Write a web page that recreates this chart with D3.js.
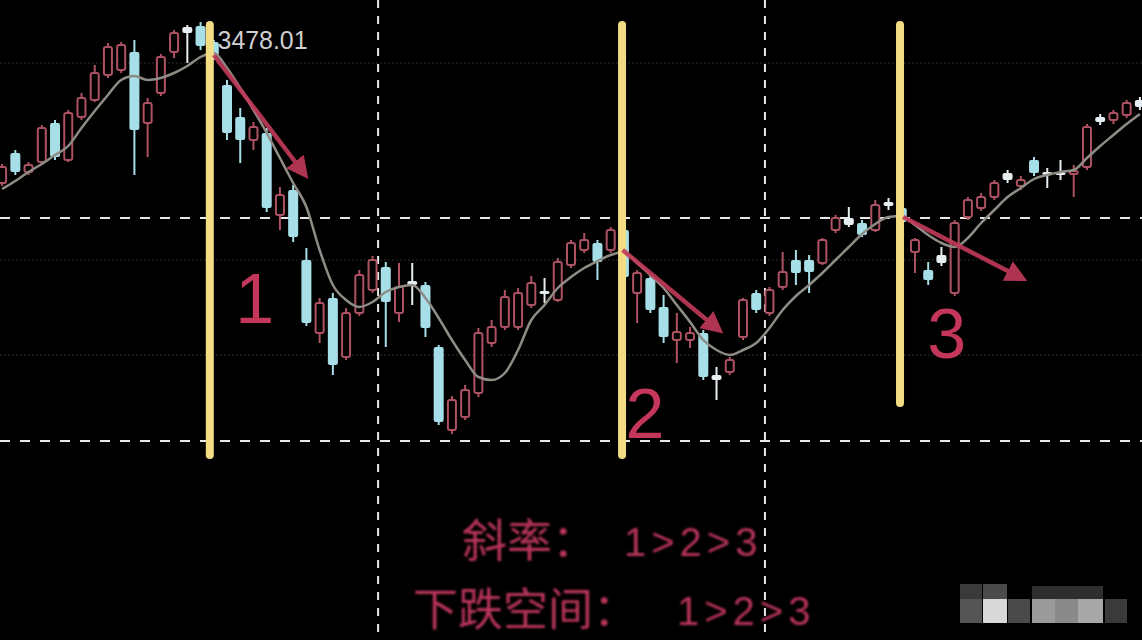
<!DOCTYPE html>
<html><head><meta charset="utf-8">
<script src="https://cdn.jsdelivr.net/npm/d3@7"></script>
<style>html,body{margin:0;padding:0;background:#000;overflow:hidden}</style>
</head><body>
<svg id="c" width="1142" height="640"></svg>
<script>
// ---- data (index-based daily candles, prices) ----
const open = [3317,3347,3328,3338,3377,3340,3383,3400,3425,3430,
3448,3377,3407,3448,3473,3474,3458,3415,3383,3360,
3367,3285,3310,3240,3167,3202,3143,3187,3210,3233,
3187,3219,3215,3153,3070,3083,3107,3157,3173,3173,
3195,3209,3200,3235,3250,3257,3250,3270,3207,3222,
3193,3160,3160,3167,3125,3128,3163,3207,3187,3213,
3240,3240,3237,3270,3282,3277,3270,3298,3292,3248,
3230,3245,3207,3283,3292,3303,3327,3314,3340,3328,
3328,3326,3333,3383,3380,3385,3400];
const close = [3333,3328,3335,3372,3343,3387,3402,3427,3453,3455,
3370,3397,3443,3467,3467,3454,3444,3367,3360,3373,
3292,3305,3263,3177,3197,3135,3187,3225,3240,3198,
3213,3215,3172,3078,3100,3110,3167,3173,3203,3207,
3217,3206,3238,3257,3260,3238,3270,3223,3227,3190,
3163,3168,3167,3123,3120,3140,3200,3190,3210,3228,
3227,3228,3260,3282,3275,3265,3295,3294,3278,3260,
3220,3237,3277,3300,3303,3317,3320,3320,3327,3325,
3325,3329,3373,3378,3387,3397,3393];
const high = [3336,3350,3338,3375,3380,3390,3407,3435,3457,3458,
3460,3402,3446,3470,3475,3478.01,3460,3420,3392,3378,
3372,3313,3315,3252,3202,3207,3192,3230,3244,3238,
3237,3237,3218,3155,3104,3115,3172,3180,3210,3212,
3224,3222,3242,3260,3267,3260,3273,3272,3230,3225,
3205,3187,3173,3170,3133,3143,3202,3210,3213,3248,
3250,3245,3262,3285,3293,3280,3300,3302,3295,3262,
3238,3253,3280,3303,3307,3320,3330,3324,3343,3332,
3340,3335,3376,3386,3390,3400,3403];
const low = [3314,3325,3325,3336,3340,3338,3380,3398,3422,3427,
3325,3343,3404,3442,3437,3450,3440,3360,3337,3350,
3288,3270,3258,3174,3157,3125,3140,3184,3207,3153,
3178,3195,3163,3075,3066,3080,3103,3153,3170,3170,
3192,3197,3198,3232,3247,3220,3247,3220,3177,3187,
3157,3137,3152,3120,3100,3125,3160,3187,3184,3210,
3215,3207,3235,3267,3273,3263,3268,3290,3274,3227,
3215,3234,3204,3280,3289,3300,3317,3310,3324,3312,
3320,3303,3330,3375,3376,3382,3390];
const ma = [3311,3319,3328,3336,3345,3354,3372,3389,3405,3420,
3424,3420,3422,3427,3434,3443,3447,3432,3412,3390,
3367,3342,3317,3293,3250,3215,3200,3193,3198,3208,
3213,3215,3202,3182,3160,3140,3123,3120,3127,3150,
3180,3195,3212,3223,3232,3239,3245,3248,3237,3225,
3212,3195,3178,3160,3150,3145,3150,3157,3172,3190,
3204,3215,3227,3240,3253,3266,3276,3283,3284,3275,
3265,3257,3253,3262,3277,3290,3303,3312,3321,3325,
3328,3330,3342,3354,3365,3376,3386];
const peakIndex = 15;
const peakLabel = "3478.01";
// annotation data
const markIdx = [15.7, 46.86, 67.87];
const markTop = [3475, 3475, 3475];
const markBottom = [3045, 3045, 3097];
const arrowFromIdx = [16.0, 46.9, 68.1];
const arrowFromPrice = [3445, 3250, 3283];
const arrowToIdx = [22.74, 54.0, 76.9];
const arrowToPrice = [3328, 3172, 3223];
const segLabels = ["1", "2", "3"];
const segLabelIdx = [19.1, 48.6, 71.4];
const segLabelPrice = [3177, 3062, 3142];
const hDashPrices = [3282, 3059];
const vDashIdx = [28.42, 57.66];
const faintPrices = [3437, 3240, 3145];
const caption1 = ["斜率：", "1>2>3"];
const caption2 = ["下跌空间：", "1>2>3"];

// ---- scales ----
const W = 1142, H = 640;
const x = d3.scaleLinear().domain([0, 86]).range([2.1, 2.1 + 86 * 13.23]);
const y = d3.scaleLinear().domain([3000, 3500]).range([500, 0]);
const bw = 10;

const svg = d3.select("#c");
svg.append("rect").attr("width", W).attr("height", H).attr("fill", "#000");

// faint grid
svg.append("g").selectAll("line").data(faintPrices).join("line")
  .attr("x1", 0).attr("x2", W).attr("y1", d => y(d)).attr("y2", d => y(d))
  .attr("stroke", "#1e1e1e").attr("stroke-width", 1.5).attr("stroke-dasharray", "2,2");

// dashed white grid
svg.append("g").selectAll("line").data(hDashPrices).join("line")
  .attr("x1", 0).attr("x2", W).attr("y1", d => y(d)).attr("y2", d => y(d))
  .attr("stroke", "#e8e8e8").attr("stroke-width", 2).attr("stroke-dasharray", "10,10");
svg.append("g").selectAll("line").data(vDashIdx).join("line")
  .attr("x1", d => x(d)).attr("x2", d => x(d)).attr("y1", 0).attr("y2", H)
  .attr("stroke", "#e8e8e8").attr("stroke-width", 2).attr("stroke-dasharray", "8,8");

// candles
const data = open.map((o, i) => ({i, o, c: close[i], h: high[i], l: low[i]}));
const upCol = "#ad5262";
function downFill(d) {
  const hpx = Math.abs(y(d.o) - y(d.c));
  return hpx < 9 ? "#e6eef1" : "#a6dfe8";
}
const g = svg.append("g");
g.selectAll("line.w").data(data).join("line").attr("class", "w")
  .attr("x1", d => x(d.i)).attr("x2", d => x(d.i))
  .attr("y1", d => y(d.h)).attr("y2", d => y(d.l))
  .attr("stroke", d => d.c >= d.o ? upCol : downFill(d)).attr("stroke-width", 2);
g.selectAll("rect.b").data(data).join("rect").attr("class", "b")
  .attr("x", d => x(d.i) - bw / 2 + (d.c >= d.o ? 1 : 0))
  .attr("width", d => d.c >= d.o ? bw - 2 : bw)
  .attr("y", d => y(Math.max(d.o, d.c)))
  .attr("height", d => Math.max(2, Math.abs(y(d.o) - y(d.c))))
  .attr("rx", 2)
  .attr("fill", d => d.c >= d.o ? "#000" : downFill(d))
  .attr("stroke", d => d.c >= d.o ? upCol : "none")
  .attr("stroke-width", 2);

// MA line
svg.append("path").datum(ma)
  .attr("d", d3.line().x((d, i) => x(i)).y(d => y(d)).curve(d3.curveMonotoneX))
  .attr("fill", "none").attr("stroke", "#8e8c84").attr("stroke-width", 2.5);

// yellow markers
svg.append("g").selectAll("line").data(markIdx).join("line")
  .attr("x1", d => x(d)).attr("x2", d => x(d))
  .attr("y1", (d, i) => y(markTop[i])).attr("y2", (d, i) => y(markBottom[i]))
  .attr("stroke", "#f3dd84").attr("stroke-width", 8).attr("stroke-linecap", "round");

// arrows
const defs = svg.append("defs");
defs.append("marker").attr("id", "ah").attr("markerUnits", "userSpaceOnUse")
  .attr("viewBox", "0 0 10 10").attr("refX", 6).attr("refY", 5)
  .attr("markerWidth", 22).attr("markerHeight", 22).attr("orient", "auto")
  .append("path").attr("d", "M0,0 L10,5 L0,10 Z").attr("fill", "#c23a5a");
const glow = defs.append("filter").attr("id", "glow").attr("x", "-20%").attr("y", "-20%").attr("width", "140%").attr("height", "140%");
glow.append("feGaussianBlur").attr("stdDeviation", 1.0);
svg.append("g").selectAll("line").data(arrowFromIdx).join("line")
  .attr("x1", d => x(d)).attr("y1", (d, i) => y(arrowFromPrice[i]))
  .attr("x2", (d, i) => x(arrowToIdx[i])).attr("y2", (d, i) => y(arrowToPrice[i]))
  .attr("stroke", "#c23a5a").attr("stroke-width", 4.5).attr("opacity", 0.9)
  .attr("marker-end", "url(#ah)");

// peak label
svg.append("text").attr("x", x(peakIndex) + 17).attr("y", y(high[peakIndex]) + 27)
  .attr("font-family", "Liberation Sans, Arial, sans-serif").attr("font-size", 25)
  .attr("textLength", 90).attr("lengthAdjust", "spacingAndGlyphs")
  .attr("fill", "#cfcfcf").text(peakLabel);

// segment numbers
svg.append("g").selectAll("text").data(segLabels).join("text")
  .attr("x", (d, i) => x(segLabelIdx[i])).attr("y", (d, i) => y(segLabelPrice[i]))
  .attr("text-anchor", "middle").attr("font-family", "Liberation Sans, Arial, sans-serif")
  .attr("font-size", 70).attr("fill", "#c4365a").text(d => d);

// captions
const cap = svg.append("g").attr("fill", "#b8345a").attr("filter", "url(#glow)");
function caption(parts, xc, xd, yb) {
  cap.append("text").attr("x", xc).attr("y", yb)
    .attr("font-family", "Noto Sans CJK SC").attr("font-size", 45).text(parts[0]);
  cap.append("text").attr("x", xd).attr("y", yb - 1)
    .attr("font-family", "Liberation Sans, Arial, sans-serif").attr("font-size", 40)
    .attr("letter-spacing", 5).text(parts[1]);
}
caption(caption1, 462, 624, 557);
caption(caption2, 413, 677, 626);

// pixelated watermark (bottom right)
const wm = [[960,584,22,15,"#3a3a3a"],[983,584,24,15,"#4a4a4a"],[1032,586,71,13,"#2e2e2e"],
  [960,599,22,24,"#555"],[983,599,24,24,"#d8d8d8"],[1008,599,22,24,"#4a4a4a"],
  [1032,599,23,24,"#9a9a9a"],[1055,599,23,24,"#8a8a8a"],[1078,599,25,24,"#a8a8a8"],[1105,599,22,24,"#3a3a3a"]];
svg.append("g").selectAll("rect").data(wm).join("rect")
  .attr("x", d => d[0]).attr("y", d => d[1]).attr("width", d => d[2]).attr("height", d => d[3]).attr("fill", d => d[4]);
</script>
</body></html>
